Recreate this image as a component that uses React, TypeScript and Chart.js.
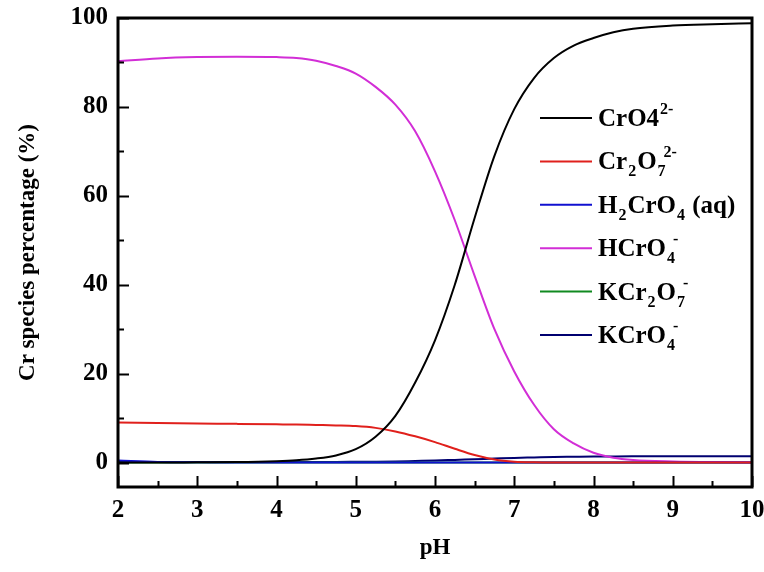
import React, { useEffect, useRef } from "react";
import { Chart, registerables } from "chart.js";

Chart.register(...registerables);

const PH = [2, 2.5, 3, 3.5, 4, 4.25, 4.5, 4.75, 5, 5.25, 5.5, 5.75, 6, 6.25, 6.5, 6.75, 7, 7.25, 7.5, 7.75, 8, 8.25, 8.5, 9, 9.5, 10];
const CRO4 = [0, 0, 0.05, 0.1, 0.3, 0.5, 0.9, 1.6, 3.0, 5.8, 10.5, 18, 27.5, 40, 55, 69, 79.5, 86.5, 91, 93.8, 95.5, 96.8, 97.6, 98.3, 98.6, 98.8];
const CR2O7 = [9.0, 8.9, 8.8, 8.7, 8.6, 8.55, 8.45, 8.35, 8.2, 7.8, 7.0, 5.9, 4.6, 3.1, 1.7, 0.7, 0.2, 0.04, 0, 0, 0, 0, 0, 0, 0, 0];
const H2CRO4 = [0.45, 0.15, 0.05, 0.02, 0, 0, 0, 0, 0, 0, 0, 0, 0, 0, 0, 0, 0, 0, 0, 0, 0, 0, 0, 0, 0, 0];
const HCRO4 = [90.3, 90.9, 91.2, 91.3, 91.2, 91.0, 90.4, 89.2, 87.5, 84.5, 80.5, 74.5, 65.5, 54.5, 42, 30, 20.5, 13, 7.5, 4.3, 2.2, 1.1, 0.6, 0.25, 0.1, 0.05];
const KCR2O7 = [0, 0, 0, 0, 0, 0, 0, 0, 0, 0, 0, 0, 0, 0, 0, 0, 0, 0, 0, 0, 0, 0, 0, 0, 0, 0];
const KCRO4 = [0.15, 0.15, 0.15, 0.15, 0.15, 0.15, 0.15, 0.15, 0.17, 0.2, 0.25, 0.35, 0.45, 0.6, 0.75, 0.9, 1.05, 1.15, 1.25, 1.3, 1.35, 1.38, 1.4, 1.4, 1.4, 1.4];

const Y_TICKS = [0, 20, 40, 60, 80, 100];
const Y_MINOR = [10, 30, 50, 70, 90];
const X_TICKS = [2, 3, 4, 5, 6, 7, 8, 9, 10];
const X_MINOR = [2.5, 3.5, 4.5, 5.5, 6.5, 7.5, 8.5, 9.5];

type Part = { t: string; s: "n" | "sub" | "sup" };
const SERIES: { name: string; label: Part[]; color: string; data: number[] }[] = [
  { name: "CrO4 2-", label: [{ t: "CrO4", s: "n" }, { t: "2-", s: "sup" }], color: "#000000", data: CRO4 },
  { name: "Cr2O7 2-", label: [{ t: "Cr", s: "n" }, { t: "2", s: "sub" }, { t: "O", s: "n" }, { t: "7", s: "sub" }, { t: "2-", s: "sup" }], color: "#e0201c", data: CR2O7 },
  { name: "H2CrO4 (aq)", label: [{ t: "H", s: "n" }, { t: "2", s: "sub" }, { t: "CrO", s: "n" }, { t: "4", s: "sub" }, { t: " (aq)", s: "n" }], color: "#1010d0", data: H2CRO4 },
  { name: "HCrO4 -", label: [{ t: "HCrO", s: "n" }, { t: "4", s: "sub" }, { t: "-", s: "sup" }], color: "#d22ed6", data: HCRO4 },
  { name: "KCr2O7 -", label: [{ t: "KCr", s: "n" }, { t: "2", s: "sub" }, { t: "O", s: "n" }, { t: "7", s: "sub" }, { t: "-", s: "sup" }], color: "#108a20", data: KCR2O7 },
  { name: "KCrO4 -", label: [{ t: "KCrO", s: "n" }, { t: "4", s: "sub" }, { t: "-", s: "sup" }], color: "#000070", data: KCRO4 },
];

const FONT = "'Liberation Serif', 'Times New Roman', serif";

const framePlugin = {
  id: "frameTicks",
  afterDatasetsDraw(chart: any) {
    const { ctx, chartArea: a, scales } = chart;
    const xs = scales.x;
    const ys = scales.y;
    ctx.save();
    ctx.strokeStyle = "#000";
    ctx.lineWidth = 2;
    ctx.beginPath();
    for (const v of X_TICKS) {
      const px = Math.round(xs.getPixelForValue(v)) + 0.5;
      ctx.moveTo(px, a.bottom);
      ctx.lineTo(px, a.bottom - 11);
    }
    for (const v of X_MINOR) {
      const px = Math.round(xs.getPixelForValue(v)) + 0.5;
      ctx.moveTo(px, a.bottom);
      ctx.lineTo(px, a.bottom - 6);
    }
    for (const v of Y_TICKS) {
      const py = Math.round(ys.getPixelForValue(v)) + 0.5;
      ctx.moveTo(a.left, py);
      ctx.lineTo(a.left + 11, py);
    }
    for (const v of Y_MINOR) {
      const py = Math.round(ys.getPixelForValue(v)) + 0.5;
      ctx.moveTo(a.left, py);
      ctx.lineTo(a.left + 6, py);
    }
    ctx.stroke();
    ctx.lineWidth = 3;
    ctx.strokeRect(a.left, a.top, a.right - a.left, a.bottom - a.top);

    // legend
    const lx = a.right - 212;
    const ly0 = a.top + 100;
    const dy = 43.4;
    SERIES.forEach((s, i) => {
      const y = ly0 + i * dy;
      ctx.strokeStyle = s.color;
      ctx.lineWidth = 2;
      ctx.beginPath();
      ctx.moveTo(lx, y);
      ctx.lineTo(lx + 52, y);
      ctx.stroke();
      let x = lx + 58;
      let lastSubX = -1;
      ctx.fillStyle = "#000";
      ctx.textBaseline = "alphabetic";
      ctx.textAlign = "left";
      const base = y + 8;
      for (const p of s.label) {
        if (p.s === "n") {
          ctx.font = `bold 25px ${FONT}`;
          ctx.fillText(p.t, x, base);
          x += ctx.measureText(p.t).width;
          lastSubX = -1;
        } else if (p.s === "sub") {
          ctx.font = `bold 16px ${FONT}`;
          lastSubX = x;
          ctx.fillText(p.t, x + 1, base + 7);
          x += ctx.measureText(p.t).width + 2;
        } else {
          ctx.font = `bold 16px ${FONT}`;
          const sx = lastSubX >= 0 ? lastSubX + 7 : x + 1;
          ctx.fillText(p.t, sx, base - 12);
          x = Math.max(x, sx + ctx.measureText(p.t).width);
        }
      }
    });
    ctx.restore();
  },
};

export default function App() {
  const ref = useRef<HTMLCanvasElement | null>(null);
  useEffect(() => {
    if (!ref.current) return;
    const chart = new Chart(ref.current, {
      type: "line",
      data: {
        datasets: SERIES.map((s) => ({
          label: s.name,
          data: PH.map((x, i) => ({ x, y: s.data[i] })),
          borderColor: s.color,
          backgroundColor: s.color,
          borderWidth: 2,
          pointRadius: 0,
          cubicInterpolationMode: "monotone" as const,
          fill: false,
        })),
      },
      options: {
        animation: false,
        responsive: true,
        maintainAspectRatio: false,
        layout: { padding: { top: 18, right: 12, left: 14, bottom: 0 } },
        plugins: { legend: { display: false }, tooltip: { enabled: false } },
        scales: {
          x: {
            type: "linear",
            min: 2,
            max: 10,
            afterBuildTicks: (scale: any) => {
              scale.ticks = X_TICKS.map((v) => ({ value: v }));
            },
            afterFit: (scale: any) => {
              scale.height = 85;
              scale.paddingLeft = 0;
              scale.paddingRight = 0;
            },
            grid: { display: false, drawTicks: false },
            border: { display: false },
            ticks: {
              color: "#000",
              padding: 9,
              maxRotation: 0,
              font: { family: FONT, size: 25, weight: "bold" },
            },
            title: {
              display: true,
              text: "pH",
              color: "#000",
              padding: { top: 0, bottom: 10 },
              font: { family: FONT, size: 23, weight: "bold" },
            },
          },
          y: {
            type: "linear",
            min: -5.5,
            max: 100,
            afterBuildTicks: (scale: any) => {
              scale.ticks = Y_TICKS.map((v) => ({ value: v }));
            },
            afterFit: (scale: any) => {
              scale.width = 104;
              scale.paddingTop = 0;
              scale.paddingBottom = 0;
            },
            grid: { display: false, drawTicks: false },
            border: { display: false },
            ticks: {
              color: "#000",
              padding: 10,
              font: { family: FONT, size: 25, weight: "bold" },
            },
            title: {
              display: true,
              text: "Cr species percentage (%)",
              color: "#000",
              padding: { top: 0, bottom: 0 },
              font: { family: FONT, size: 23, weight: "bold" },
            },
          },
        },
      },
      plugins: [framePlugin],
    });
    return () => chart.destroy();
  }, []);
  return (
    <div style={{ position: "fixed", left: 0, top: 0, width: 764, height: 572, background: "#fff" }}>
      <canvas ref={ref} />
    </div>
  );
}
